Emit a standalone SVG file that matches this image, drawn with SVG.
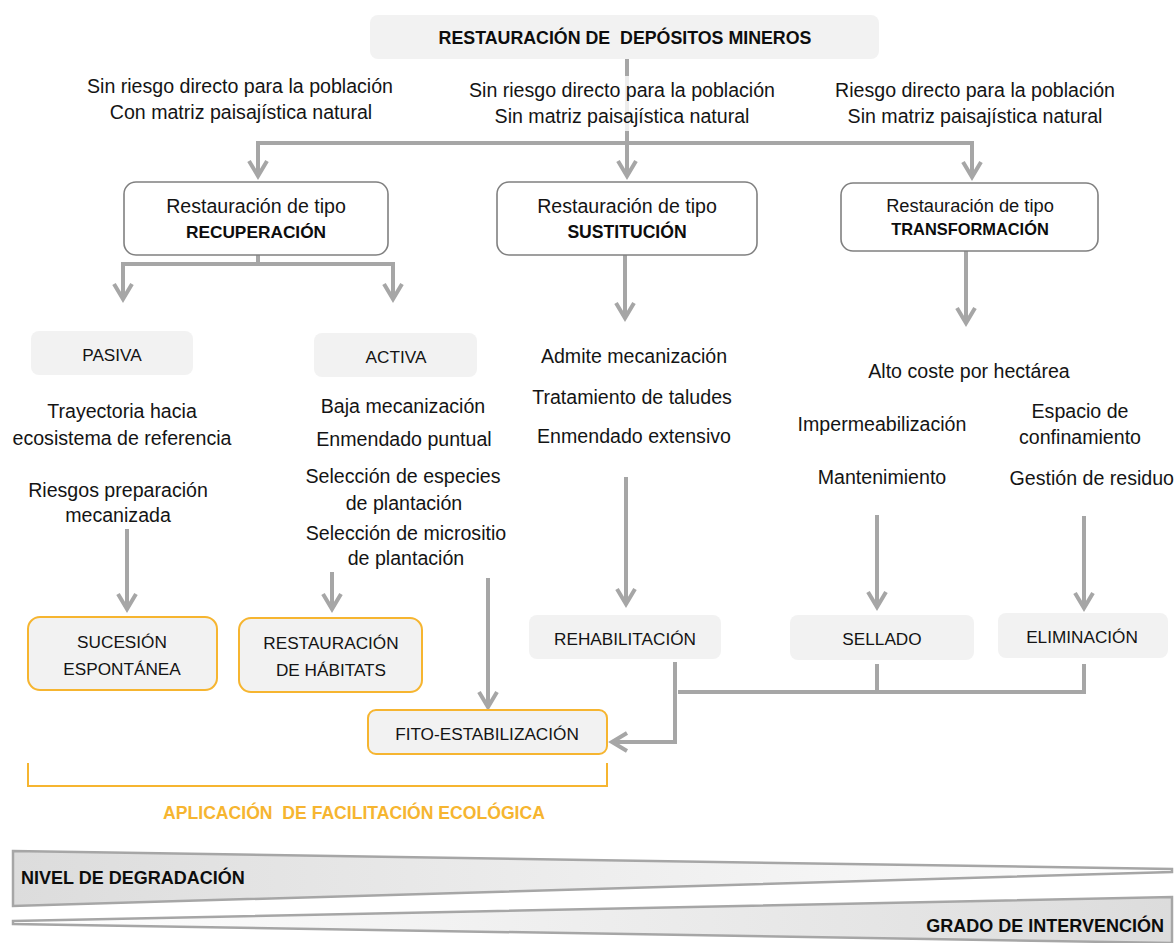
<svg xmlns="http://www.w3.org/2000/svg" width="1176" height="943" viewBox="0 0 1176 943">
<defs>
<style>
text{font-family:"Liberation Sans",Arial,sans-serif;fill:#141414;text-anchor:middle}
.b{font-weight:bold;fill:#0d0d0d}
.t19{font-size:19.6px}
.t17{font-size:17.2px}
.type{fill:#fff;stroke:#808080;stroke-width:1.6}
.grey{fill:#f2f2f2;stroke:none}
.res{fill:#f2f2f2;stroke:#f6b530;stroke-width:2}
.conn{fill:none;stroke:#a6a6a6;stroke-width:4}
.wedge{stroke:#a6a6a6;stroke-width:2.5}
</style>
<marker id="arr" markerUnits="userSpaceOnUse" markerWidth="30" markerHeight="30" viewBox="-22 -15 30 30" refX="0" refY="0" orient="auto">
<path d="M-15,-9 L0,0 L-15,9" fill="none" stroke="#a6a6a6" stroke-width="4"/>
</marker>
<linearGradient id="gTop" x1="0" y1="0" x2="1" y2="0">
<stop offset="0" stop-color="#dcdcdc"/>
<stop offset="1" stop-color="#ffffff"/>
</linearGradient>
<linearGradient id="gBot" x1="0" y1="0" x2="1" y2="0">
<stop offset="0" stop-color="#ffffff"/>
<stop offset="1" stop-color="#dcdcdc"/>
</linearGradient>
</defs>
<rect width="1176" height="943" fill="#fff"/>

<g id="connectors" class="conn">
<path d="M627,59 V176" marker-end="url(#arr)"/>
<path d="M256,143 H974"/>
<path d="M258,141 V176" marker-end="url(#arr)"/>
<path d="M972,141 V177" marker-end="url(#arr)"/>
<path d="M258,255 V264"/>
<path d="M121,264 H395"/>
<path d="M123,262 V299" marker-end="url(#arr)"/>
<path d="M393,262 V299" marker-end="url(#arr)"/>
<path d="M625,255 V318" marker-end="url(#arr)"/>
<path d="M966,251 V323" marker-end="url(#arr)"/>
<path d="M127,529 V609" marker-end="url(#arr)"/>
<path d="M332,572 V609" marker-end="url(#arr)"/>
<path d="M488,578 V707" marker-end="url(#arr)"/>
<path d="M626,477 V604" marker-end="url(#arr)"/>
<path d="M877,515 V607" marker-end="url(#arr)"/>
<path d="M1084,516 V608" marker-end="url(#arr)"/>
<path d="M675,662 V742 H612" marker-end="url(#arr)"/>
<path d="M678,692 H1086"/>
<path d="M877,664 V692"/>
<path d="M1084,664 V694"/>
</g>

<g id="title">
<rect x="370" y="15" width="509" height="44" rx="8" class="grey"/>
<text x="625" y="44" class="b" style="font-size:17.8px" xml:space="preserve">RESTAURACIÓN DE  DEPÓSITOS MINEROS</text>
</g>

<g id="cond1">
<text x="240" y="93" class="t19">Sin riesgo directo para la población</text>
<text x="241" y="119" class="t19">Con matriz paisajística natural</text>
</g>
<g id="cond2">
<rect x="462" y="76" width="322" height="55" fill="#fff" opacity="0.8"/>
<text x="622" y="97" class="t19">Sin riesgo directo para la población</text>
<text x="622" y="123" class="t19">Sin matriz paisajística natural</text>
</g>
<g id="cond3">
<text x="975" y="97" class="t19">Riesgo directo para la población</text>
<text x="975" y="123" class="t19">Sin matriz paisajística natural</text>
</g>

<g id="recuperacion">
<rect x="124" y="182" width="264" height="73" rx="12" class="type"/>
<text x="256" y="213" style="font-size:19.6px">Restauración de tipo</text>
<text x="256" y="238" class="b" style="font-size:17.3px">RECUPERACIÓN</text>
</g>
<g id="sustitucion">
<rect x="497" y="182" width="260" height="73" rx="12" class="type"/>
<text x="627" y="213" style="font-size:19.6px">Restauración de tipo</text>
<text x="627" y="238" class="b" style="font-size:17.6px">SUSTITUCIÓN</text>
</g>
<g id="transformacion">
<rect x="841" y="183" width="257" height="68" rx="12" class="type"/>
<text x="970" y="212" style="font-size:18.3px">Restauración de tipo</text>
<text x="970" y="235" class="b" style="font-size:16.4px">TRANSFORMACIÓN</text>
</g>

<g id="pasiva">
<rect x="31" y="331" width="162" height="44" rx="8" class="grey"/>
<text x="112" y="361" class="t17">PASIVA</text>
</g>
<g id="activa">
<rect x="314" y="333" width="163" height="44" rx="8" class="grey"/>
<text x="396" y="363" class="t17">ACTIVA</text>
</g>

<g id="pasiva-notes">
<text x="122" y="418" class="t19">Trayectoria hacia</text>
<text x="122" y="445" class="t19">ecosistema de referencia</text>
<text x="118" y="497" class="t19">Riesgos preparación</text>
<text x="118" y="522" class="t19">mecanizada</text>
</g>
<g id="activa-notes">
<text x="403" y="413" class="t19">Baja mecanización</text>
<text x="404" y="446" class="t19">Enmendado puntual</text>
<text x="403" y="483" class="t19">Selección de especies</text>
<text x="404" y="510" class="t19">de plantación</text>
<text x="406" y="540" class="t19">Selección de micrositio</text>
<text x="406" y="565" class="t19">de plantación</text>
</g>
<g id="sustitucion-notes">
<text x="634" y="363" class="t19">Admite mecanización</text>
<text x="632" y="404" class="t19">Tratamiento de taludes</text>
<text x="634" y="443" class="t19">Enmendado extensivo</text>
</g>
<g id="transformacion-notes">
<text x="969" y="378" class="t19">Alto coste por hectárea</text>
<text x="882" y="431" class="t19">Impermeabilización</text>
<text x="1080" y="418" class="t19">Espacio de</text>
<text x="1080" y="444" class="t19">confinamiento</text>
<text x="882" y="484" class="t19">Mantenimiento</text>
<text x="1174" y="485" class="t19" style="text-anchor:end">Gestión de residuo</text>
</g>

<g id="sucesion">
<rect x="28" y="617" width="189" height="73" rx="12" class="res"/>
<text x="122" y="648" class="t17">SUCESIÓN</text>
<text x="122" y="675" class="t17">ESPONTÁNEA</text>
</g>
<g id="habitats">
<rect x="239" y="618" width="183" height="74" rx="12" class="res"/>
<text x="331" y="649" class="t17">RESTAURACIÓN</text>
<text x="331" y="676" class="t17">DE HÁBITATS</text>
</g>
<g id="fito">
<rect x="368" y="710" width="239" height="44" rx="8" class="res"/>
<text x="487" y="740" class="t17">FITO-ESTABILIZACIÓN</text>
</g>
<g id="rehabilitacion">
<rect x="529" y="615" width="192" height="44" rx="8" class="grey"/>
<text x="625" y="645" class="t17">REHABILITACIÓN</text>
</g>
<g id="sellado">
<rect x="790" y="615" width="184" height="45" rx="8" class="grey"/>
<text x="882" y="645" class="t17">SELLADO</text>
</g>
<g id="eliminacion">
<rect x="998" y="613" width="170" height="45" rx="8" class="grey"/>
<text x="1082" y="643" class="t17">ELIMINACIÓN</text>
</g>

<g id="facilitacion">
<path d="M28,763 V786 H607 V763" fill="none" stroke="#f6b530" stroke-width="2"/>
<text x="354" y="819" class="b" style="font-size:17.6px;fill:#f6b530" xml:space="preserve">APLICACIÓN  DE FACILITACIÓN ECOLÓGICA</text>
</g>

<g id="degradacion">
<polygon points="13,851 1172,869 1172,872 13,906" fill="url(#gTop)" class="wedge"/>
<text x="21" y="884" class="b" style="font-size:18px;text-anchor:start">NIVEL DE DEGRADACIÓN</text>
</g>
<g id="intervencion">
<polygon points="13,921 1172,897 1172,943 13,924" fill="url(#gBot)" class="wedge"/>
<text x="1164" y="932" class="b" style="font-size:18px;text-anchor:end">GRADO DE INTERVENCIÓN</text>
</g>
</svg>
